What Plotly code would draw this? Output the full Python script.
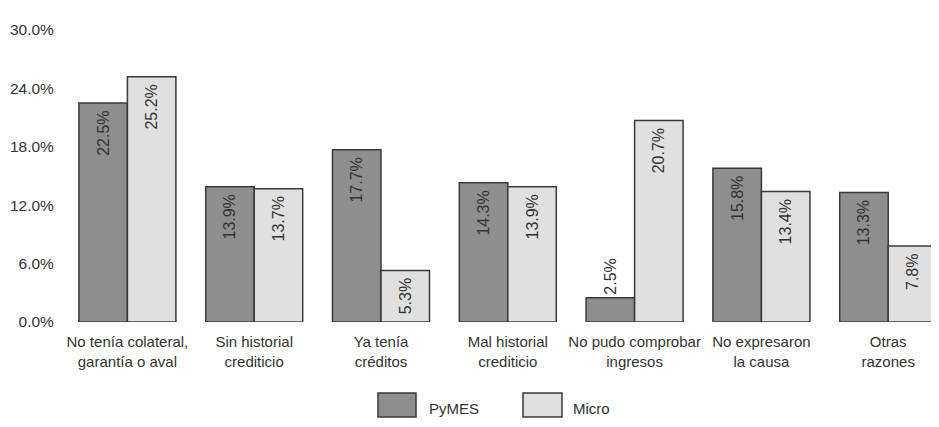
import plotly.graph_objects as go

categories = ["No tenía colateral,<br>garantía o aval", "Sin historial<br>crediticio",
              "Ya tenía<br>créditos", "Mal historial<br>crediticio",
              "No pudo comprobar<br>ingresos", "No expresaron<br>la causa", "Otras<br>razones"]
pymes = [22.5, 13.9, 17.7, 14.3, 2.5, 15.8, 13.3]
micro = [25.2, 13.7, 5.3, 13.9, 20.7, 13.4, 7.8]
y_ticks = [0, 6, 12, 18, 24, 30]
y_tick_labels = ["0.0%", "6.0%", "12.0%", "18.0%", "24.0%", "30.0%"]
series_names = ["PyMES", "Micro"]

dark = "#8e8e8e"
light = "#e0e0e0"
edge = "#3a3a3a"
tickfont = "Liberation Sans, Arial, sans-serif"
labelfont = "Liberation Sans, Arial, sans-serif"
txtcol = "#333333"

# page offset (body margin) and figure size
OFF = 8
FW, FH = 939 - OFF, 427 - OFF
# plot area in page pixels
L, R, T, B = 64, 939, 30, 322
W, H = R - L, B - T

def px(x):
    return (x - L) / W

def py(y):
    return (B - y) / H

def positions(vals):
    return ["outside" if v < 4 else "inside" for v in vals]

fig = go.Figure()
for name, vals, col in [(series_names[0], pymes, dark), (series_names[1], micro, light)]:
    fig.add_trace(go.Bar(
        x=categories, y=vals, name=name,
        marker=dict(color=col, line=dict(color=edge, width=1.5)),
        text=[f"{v:.1f}%\u00a0" if p == "inside" else f"{v:.1f}%" for v, p in zip(vals, positions(vals))],
        textposition=positions(vals),
        insidetextanchor="end",
        textangle=-90,
        textfont=dict(family=labelfont, size=16, color=txtcol),
        cliponaxis=True,
        showlegend=False,
    ))

fig.update_layout(
    width=FW, height=FH,
    margin=dict(l=L - OFF, r=0, t=T - OFF, b=427 - B, autoexpand=False),
    paper_bgcolor="white", plot_bgcolor="white",
    barmode="group", bargap=0.235, bargroupgap=0,
    uniformtext=dict(minsize=16, mode="show"),
    font=dict(family=tickfont, size=15, color=txtcol),
    xaxis=dict(range=[-0.5, -0.5 + W / 126.8], automargin=False,
               showline=False, ticks="outside", ticklen=6, tickcolor="rgba(0,0,0,0)",
               tickfont=dict(family=tickfont, size=15, color=txtcol),
               showgrid=False, zeroline=False),
    yaxis=dict(range=[0, 30], tickvals=y_ticks, ticktext=y_tick_labels, automargin=False,
               showgrid=False, zeroline=False, showline=False, ticks="outside",
               ticklen=6, tickcolor="rgba(0,0,0,0)",
               tickfont=dict(family=tickfont, size=15.5, color=txtcol)),
)

# legend drawn as boxes + text
legend_items = [(378, 416, 429, series_names[0], dark), (523, 562, 573, series_names[1], light)]
for x0, x1, tx, label, col in legend_items:
    fig.add_shape(type="rect", xref="paper", yref="paper",
                  x0=px(x0), x1=px(x1), y0=py(417), y1=py(393),
                  fillcolor=col, line=dict(color=edge, width=1.5))
    fig.add_annotation(xref="paper", yref="paper", x=px(tx), y=py(408),
                       text=label, showarrow=False, xanchor="left", yanchor="middle",
                       xshift=-2, font=dict(family=tickfont, size=15, color=txtcol))

fig.write_html("out.html")
